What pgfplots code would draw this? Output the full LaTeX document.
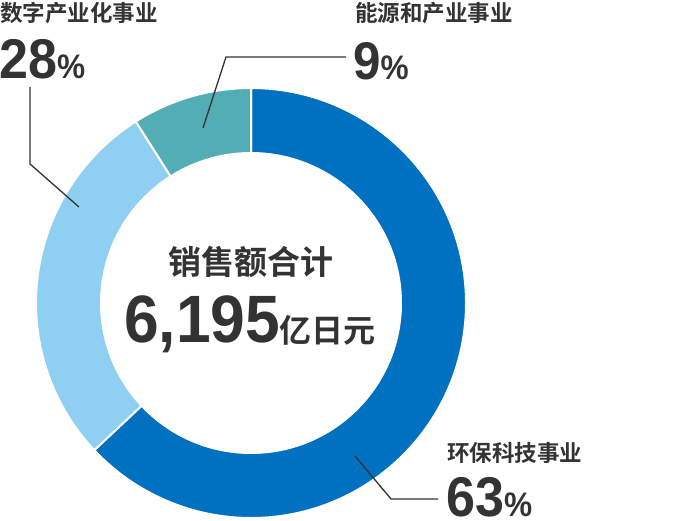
\documentclass[border=0pt]{standalone}
\usepackage{fontspec}
\usepackage{pgfplots}
\pgfplotsset{compat=1.18}
\newfontfamily\cjk{Noto Sans CJK SC}[BoldFont={Noto Sans CJK SC Bold}]
\newfontfamily\num{Liberation Sans}[FakeStretch=0.93]

\definecolor{segA}{RGB}{0,112,192}
\definecolor{segB}{RGB}{143,208,242}
\definecolor{segC}{RGB}{82,174,180}
\definecolor{txt}{RGB}{51,51,51}

% donut geometry (page units = pt = px)
\def\cx{251}\def\cy{303}\def\Ro{215}\def\Ri{150}

% \seg{cumulative % before}{share %}{colour}
\newcommand{\seg}[3]{%
  \fill[#3, draw=white, line width=2pt]
    ([shift={({90-3.6*#1}:\Ro pt)}]axis cs:\cx,\cy)
    arc[start angle={90-3.6*#1}, delta angle={-3.6*#2}, radius=\Ro pt]
    -- ([shift={({90-3.6*(#1+#2)}:\Ri pt)}]axis cs:\cx,\cy)
    arc[start angle={90-3.6*(#1+#2)}, delta angle={3.6*#2}, radius=\Ri pt]
    -- cycle;}

% big number + light percent sign
\newcommand{\pct}[2]{{\num\bfseries\fontsize{#2}{#2}\selectfont #1}{\num\fontsize{34}{40}\selectfont\%}}

\begin{document}
\begin{tikzpicture}
\begin{axis}[
    x=1pt, y=1pt,
    xmin=0, xmax=690, ymin=0, ymax=520,
    y dir=reverse,
    hide axis, clip=false,
  ]
  \coordinate (tl) at (axis cs:0,0);
  \coordinate (br) at (axis cs:690,520);

  % shares: 63, 28, 9
  \seg{0}{63}{segA}
  \seg{63}{28}{segB}
  \seg{91}{9}{segC}

  % leader lines
  \draw[txt, line width=1.3pt] (axis cs:30,87) -- (axis cs:30,164) -- (axis cs:79,207);
  \draw[txt, line width=1.3pt] (axis cs:203,128) -- (axis cs:226,57) -- (axis cs:346,57);
  \draw[txt, line width=1.3pt] (axis cs:355,456) -- (axis cs:391,499) -- (axis cs:438,499);

  % labels
  \begin{scope}[every node/.style={inner sep=0pt, text=txt, font=\cjk\bfseries}]
  \node[anchor=base west] at (axis cs:0,21) {\fontsize{22.5}{26}\selectfont 数字产业化事业};
  \node[anchor=base west] at (axis cs:-1,78) {\pct{28}{56}};
  \node[anchor=base west] at (axis cs:355,21) {\fontsize{22.5}{26}\selectfont 能源和产业事业};
  \node[anchor=base west] at (axis cs:353,79) {\pct{9}{53}};
  \node[anchor=base west] at (axis cs:447,461) {\fontsize{22.5}{26}\selectfont 环保科技事业};
  \node[anchor=base west] at (axis cs:446,516) {\pct{63}{56}};
  \node[anchor=base] at (axis cs:251,274) {\fontsize{33}{38}\selectfont 销售额合计};
  \node[anchor=base] at (axis cs:250,342) {{\num\bfseries\fontsize{67}{72}\selectfont 6,195}\fontsize{32}{38}\selectfont 亿日元};
  \end{scope}
\end{axis}
\pgfresetboundingbox
\useasboundingbox (tl) rectangle (br);
\end{tikzpicture}
\end{document}
